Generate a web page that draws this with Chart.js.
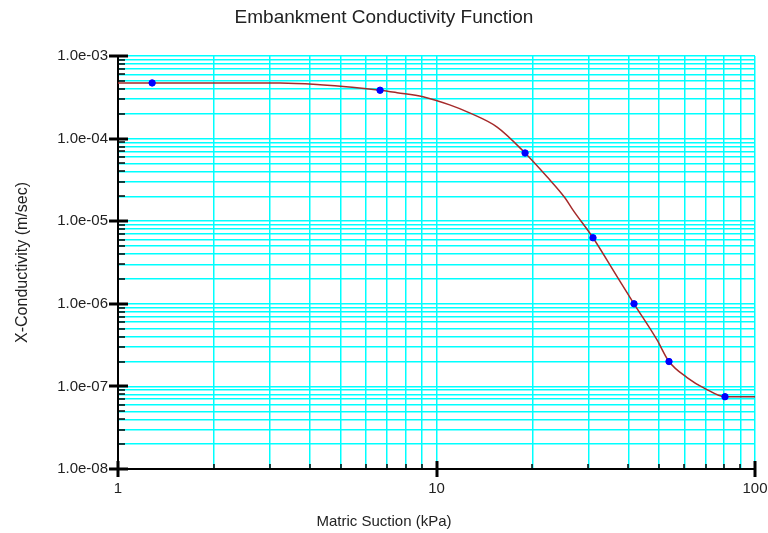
<!DOCTYPE html>
<html>
<head>
<meta charset="utf-8">
<title>Embankment Conductivity Function</title>
<script src="https://cdn.jsdelivr.net/npm/chart.js@4/dist/chart.umd.min.js"></script>
<style>
    body { margin: 0; background: #fff; }
    canvas { display: block; }
</style>
</head>
<body>
<canvas id="kChart" width="768" height="533"></canvas>
<script>
// Curva de conductividad (succión en kPa, conductividad en m/s)
const curveSuction = [1, 3.23, 4.31, 5.43, 6.65, 7.52, 9.07, 11.0, 12.7, 15.5, 18.97, 22.2, 25.3, 26.8, 31.0, 36.9, 41.7, 49.2, 53.7, 61.2, 69.7, 80.5, 100];
const curveK = [4.72e-4, 4.72e-4, 4.50e-4, 4.19e-4, 3.85e-4, 3.60e-4, 3.22e-4, 2.56e-4, 2.05e-4, 1.38e-4, 6.7e-5, 3.47e-5, 1.92e-5, 1.37e-5, 6.3e-6, 2.13e-6, 1.0e-6, 3.68e-7, 2.0e-7, 1.28e-7, 9.4e-8, 7.5e-8, 7.5e-8];

// Puntos de control de la función
const pointSuction = [1.28, 6.65, 18.97, 31.0, 41.7, 53.7, 80.5];
const pointK = [4.72e-4, 3.85e-4, 6.7e-5, 6.3e-6, 1.0e-6, 2.0e-7, 7.5e-8];

// Límites de los ejes
const xRange = [1, 100];
const yRange = [1e-8, 1e-3];

const FONT = "'Liberation Sans', Arial, sans-serif";

function isDecade(v) {
    const l = Math.log10(v);
    return Math.abs(l - Math.round(l)) < 1e-6;
}

// Marcas 1..9 de cada década entre min y max
function logTicks(min, max) {
    const out = [];
    const e0 = Math.round(Math.log10(min));
    const e1 = Math.round(Math.log10(max));
    for (let e = e0; e < e1; e++) {
        for (let m = 1; m <= 9; m++) {
            out.push({ value: parseFloat((m * Math.pow(10, e)).toPrecision(3)) });
        }
    }
    out.push({ value: max });
    return out;
}

// 1.0e-03 en vez de 1.0e-3
function fmtExp(v) {
    const parts = v.toExponential(1).split('e');
    const n = parseInt(parts[1], 10);
    return parts[0] + 'e' + (n < 0 ? '-' : '+') + String(Math.abs(n)).padStart(2, '0');
}

// Marcas negras sobre los ejes (mayores cruzan el eje, menores hacia dentro)
const axisTicks = {
    id: 'axisTicks',
    afterDraw(chart) {
        const { ctx, chartArea: area, scales: { x, y } } = chart;
        ctx.save();
        ctx.strokeStyle = '#000';
        x.ticks.forEach(t => {
            const px = Math.round(x.getPixelForValue(t.value));
            const major = isDecade(t.value);
            ctx.lineWidth = major ? 3 : 1.5;
            ctx.beginPath();
            ctx.moveTo(px, area.bottom + (major ? 8 : 0));
            ctx.lineTo(px, area.bottom - (major ? 8 : 5));
            ctx.stroke();
        });
        y.ticks.forEach(t => {
            const py = Math.round(y.getPixelForValue(t.value));
            const major = isDecade(t.value);
            ctx.lineWidth = major ? 3 : 1.5;
            ctx.beginPath();
            ctx.moveTo(area.left - (major ? 9 : 0), py);
            ctx.lineTo(area.left + (major ? 10 : 7), py);
            ctx.stroke();
        });
        ctx.restore();
    }
};

const ctx = document.getElementById('kChart').getContext('2d');
const kChart = new Chart(ctx, {
    type: 'scatter',
    data: {
        datasets: [{
            label: 'Puntos',
            data: pointSuction.map((s, i) => ({ x: s, y: pointK[i] })),
            backgroundColor: '#0000ff',
            borderColor: '#0000ff',
            pointRadius: 3.2,
            order: 0
        }, {
            label: 'Conductividad',
            data: curveSuction.map((s, i) => ({ x: s, y: curveK[i] })),
            showLine: true,
            borderColor: '#a52a2a',
            borderWidth: 1.5,
            pointRadius: 0,
            cubicInterpolationMode: 'monotone',
            order: 1
        }]
    },
    options: {
        responsive: false,
        animation: false,
        layout: { padding: 0 },
        plugins: {
            legend: { display: false },
            tooltip: { enabled: false },
            title: {
                display: true,
                text: 'Embankment Conductivity Function',
                color: '#222',
                font: { family: FONT, size: 19, weight: 'normal' },
                padding: { top: 6, bottom: 27.2 }
            },
            subtitle: {
                display: true,
                position: 'bottom',
                text: 'Matric Suction (kPa)',
                color: '#222',
                font: { family: FONT, size: 15, weight: 'normal' },
                padding: { top: 0, bottom: 2 }
            }
        },
        scales: {
            x: {
                type: 'logarithmic',
                min: xRange[0],
                max: xRange[1],
                afterBuildTicks: s => { s.ticks = logTicks(xRange[0], xRange[1]); },
                afterFit: s => { s.height = 44; s.paddingRight = 13; },
                grid: { color: '#00ffff', lineWidth: 1.5, drawTicks: false },
                border: { color: '#000', width: 2 },
                ticks: {
                    autoSkip: false,
                    maxRotation: 0,
                    padding: 11,
                    color: '#222',
                    font: { family: FONT, size: 15 },
                    callback: v => isDecade(v) ? String(Math.round(v)) : ''
                }
            },
            y: {
                type: 'logarithmic',
                min: yRange[0],
                max: yRange[1],
                afterBuildTicks: s => { s.ticks = logTicks(yRange[0], yRange[1]); },
                afterFit: s => { s.width = 118; },
                grid: { color: '#00ffff', lineWidth: 1.5, drawTicks: false },
                border: { color: '#000', width: 2 },
                title: {
                    display: true,
                    text: 'X-Conductivity (m/sec)',
                    color: '#222',
                    font: { family: FONT, size: 16 },
                    padding: { top: 13, bottom: 0 }
                },
                ticks: {
                    autoSkip: false,
                    padding: 10,
                    color: '#222',
                    font: { family: FONT, size: 15 },
                    callback: v => isDecade(v) ? fmtExp(v) : ''
                }
            }
        }
    },
    plugins: [axisTicks]
});
</script>
</body>
</html>
